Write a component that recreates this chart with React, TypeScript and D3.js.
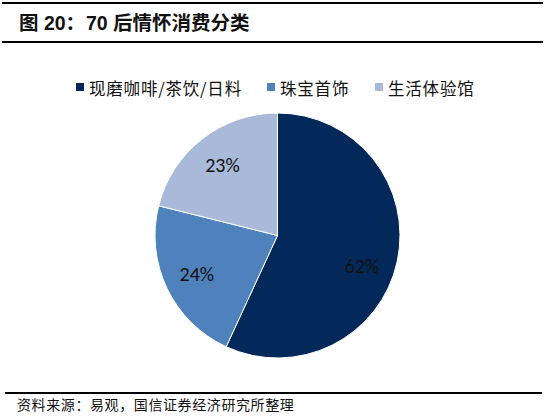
import React, { useEffect, useRef } from "react";
import * as d3 from "d3";

const categories = ["现磨咖啡/茶饮/日料", "珠宝首饰", "生活体验馆"];
const values = [62, 24, 23];
const colors = ["#03295A", "#4F81BD", "#A8B9DA"];
const legendX = [76, 267, 375];

export default function App() {
  const ref = useRef<SVGSVGElement>(null);

  useEffect(() => {
    if (!ref.current) return;
    const svg = d3.select(ref.current);
    svg.selectAll("*").remove();

    const width = 554;
    const height = 419;
    const cjk = "'Noto Sans CJK SC', sans-serif";

    // rules
    svg.append("line").attr("x1", 2).attr("x2", 543).attr("y1", 3).attr("y2", 3)
      .attr("stroke", "#000").attr("stroke-width", 2);
    svg.append("line").attr("x1", 2).attr("x2", 543).attr("y1", 42).attr("y2", 42)
      .attr("stroke", "#000").attr("stroke-width", 2);
    svg.append("line").attr("x1", 5).attr("x2", 542).attr("y1", 393).attr("y2", 393)
      .attr("stroke", "#000").attr("stroke-width", 2);

    // title
    const title = svg.append("text")
      .attr("x", 19).attr("y", 30)
      .attr("font-family", `'Liberation Sans', ${cjk}`)
      .attr("font-weight", "bold")
      .attr("font-size", 19.5)
      .attr("fill", "#111");
    title.append("tspan").text("图 20：");
    title.append("tspan").attr("x", 86).text("70 后情怀消费分类");

    // legend
    const lg = svg.append("g");
    categories.forEach((c, i) => {
      lg.append("rect").attr("x", legendX[i]).attr("y", 83)
        .attr("width", 8).attr("height", 8).attr("fill", colors[i]);
      lg.append("text").attr("x", legendX[i] + 13).attr("y", 95)
        .attr("font-family", cjk).attr("font-size", 16.5)
        .attr("letter-spacing", 0.8).attr("fill", "#111")
        .text(c);
    });

    // pie
    const cx = 277.5;
    const cy = 235.5;
    const r = 122.5;
    const pie = d3.pie<number>().sort(null).value((d) => d);
    const arcs = pie(values);
    const arc = d3.arc<d3.PieArcDatum<number>>().innerRadius(0).outerRadius(r);
    const labelArc = d3.arc<d3.PieArcDatum<number>>().innerRadius(r * 0.73).outerRadius(r * 0.73);

    const g = svg.append("g").attr("transform", `translate(${cx},${cy})`);
    g.selectAll("path")
      .data(arcs)
      .join("path")
      .attr("d", arc)
      .attr("fill", (_, i) => colors[i])
      .attr("stroke", "#fff")
      .attr("stroke-width", 1);

    g.selectAll("text")
      .data(arcs)
      .join("text")
      .attr("transform", (d) => {
        const [x, y] = labelArc.centroid(d);
        return `translate(${x - (d.index === 0 ? 3 : 0)},${y + (d.index === 0 ? 11 : 0)})`;
      })
      .attr("text-anchor", "middle")
      .attr("dy", "0.35em")
      .attr("font-family", "Carlito, 'Open Sans', sans-serif")
      .attr("font-size", 20)
      .attr("fill", "#111")
      .text((d) => `${d.data}%`);

    // source
    svg.append("text")
      .attr("x", 17).attr("y", 410)
      .attr("font-family", cjk)
      .attr("font-size", 14)
      .attr("letter-spacing", 0.6)
      .attr("fill", "#111")
      .text("资料来源：易观，国信证券经济研究所整理");

    svg.attr("width", width).attr("height", height);
  }, []);

  return (
    <svg
      ref={ref}
      width={554}
      height={419}
      style={{ position: "absolute", left: 0, top: 0, background: "#fff" }}
    />
  );
}
